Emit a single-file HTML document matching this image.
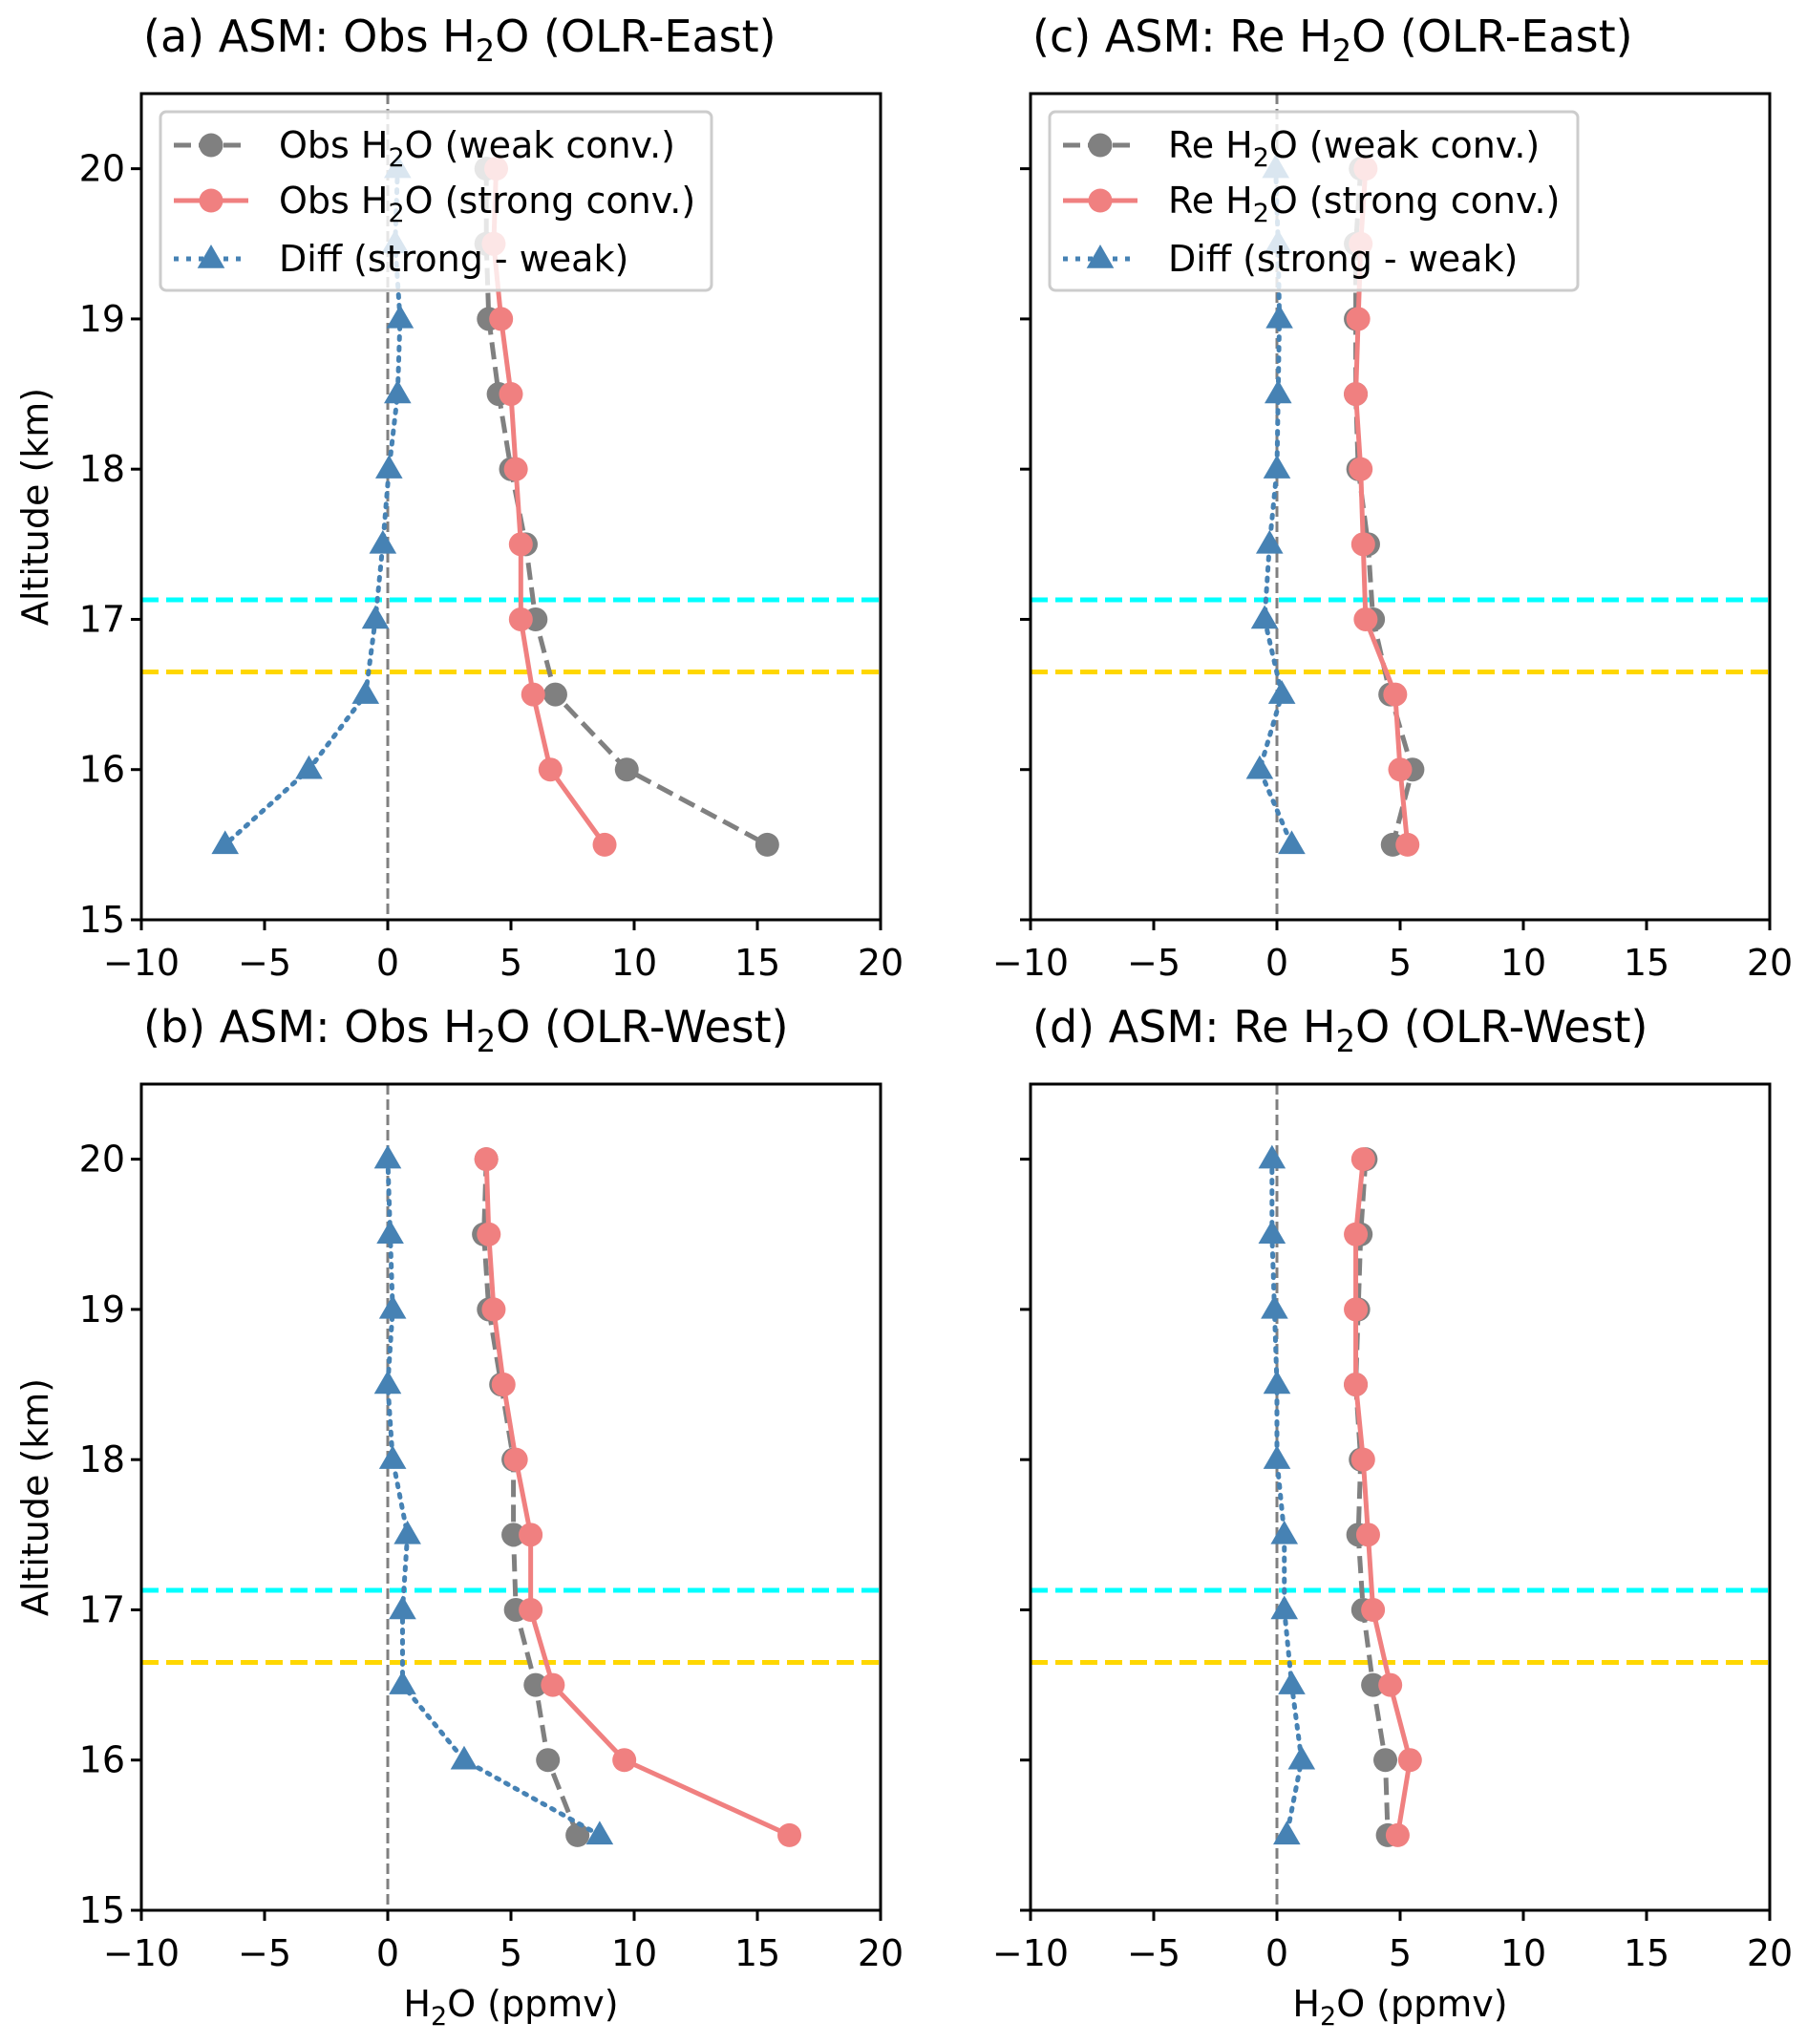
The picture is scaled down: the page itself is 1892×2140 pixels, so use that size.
<!DOCTYPE html>
<html><head><meta charset="utf-8"><style>
body{margin:0;background:#fff}
svg{display:block;font-family:"DejaVu Sans","Liberation Sans",sans-serif}
</style></head><body>
<svg id="fig" width="1892" height="2140" viewBox="0 0 1892 2140" xmlns="http://www.w3.org/2000/svg"></svg>
<script>
const altitudes = [20, 19.5, 19, 18.5, 18, 17.5, 17, 16.5, 16, 15.5];
const xTicks = [-10, -5, 0, 5, 10, 15, 20];
const yTicks = [15, 16, 17, 18, 19, 20];
const cyanLevel = 17.13;
const yellowLevel = 16.65;
const aWeak = [4.0, 4.0, 4.1, 4.5, 5.0, 5.6, 6.0, 6.8, 9.7, 15.4];
const aStrong = [4.4, 4.3, 4.6, 5.0, 5.2, 5.4, 5.4, 5.9, 6.6, 8.8];
const aDiff = [0.4, 0.3, 0.5, 0.4, 0.05, -0.2, -0.5, -0.9, -3.2, -6.6];
const bWeak = [4.0, 3.9, 4.1, 4.6, 5.1, 5.1, 5.2, 6.0, 6.5, 7.7];
const bStrong = [4.0, 4.1, 4.3, 4.7, 5.2, 5.8, 5.8, 6.7, 9.6, 16.3];
const bDiff = [0.0, 0.1, 0.2, 0.0, 0.2, 0.8, 0.6, 0.6, 3.1, 8.6];
const cWeak = [3.4, 3.2, 3.2, 3.2, 3.3, 3.7, 3.9, 4.6, 5.5, 4.7];
const cStrong = [3.6, 3.4, 3.3, 3.2, 3.4, 3.5, 3.6, 4.8, 5.0, 5.3];
const cDiff = [-0.05, 0.05, 0.1, 0.05, 0, -0.3, -0.5, 0.2, -0.7, 0.6];
const dWeak = [3.6, 3.4, 3.3, 3.2, 3.4, 3.3, 3.5, 3.9, 4.4, 4.5];
const dStrong = [3.5, 3.2, 3.2, 3.2, 3.5, 3.7, 3.9, 4.6, 5.4, 4.9];
const dDiff = [-0.2, -0.2, -0.1, 0, 0, 0.3, 0.3, 0.6, 1.0, 0.4];

const NS = 'http://www.w3.org/2000/svg';
const svg = document.getElementById('fig');
function el(tag, attrs, parent){
  const e = document.createElementNS(NS, tag);
  for (const k in attrs) e.setAttribute(k, attrs[k]);
  (parent||svg).appendChild(e);
  return e;
}
const panels = [
  {id:'a', left:148, top:98, title:'(a) ASM: Obs H', tail:'O (OLR-East)', weak:aWeak, strong:aStrong, diff:aDiff, yl:true, xl:false, legend:'Obs'},
  {id:'b', left:148, top:1135, title:'(b) ASM: Obs H', tail:'O (OLR-West)', weak:bWeak, strong:bStrong, diff:bDiff, yl:true, xl:true, legend:null},
  {id:'c', left:1079, top:98, title:'(c) ASM: Re H', tail:'O (OLR-East)', weak:cWeak, strong:cStrong, diff:cDiff, yl:false, xl:false, legend:'Re'},
  {id:'d', left:1079, top:1135, title:'(d) ASM: Re H', tail:'O (OLR-West)', weak:dWeak, strong:dStrong, diff:dDiff, yl:false, xl:true, legend:null},
];
const W = 774, H = 865;
function triPts(x,y,r){return `${x},${y-r*1.15} ${x-r*1.1},${y+r*0.75} ${x+r*1.1},${y+r*0.75}`;}
panels.forEach(p=>{
  const g = el('g', {});
  
  
  const X = v => p.left + (v + 10) / 30 * W;
  const Y = v => p.top + (20.5 - v) / 5.5 * H;
  const bottom = p.top + H;
  const t = el('text', {x:p.left+2, y:p.top-44, 'font-size':46, fill:'#000'}, g);
  
  
  t.innerHTML = p.title + '<tspan font-size="32" dy="10">2</tspan><tspan dy="-10">' + p.tail + '</tspan>';
  const z = el('line', {x1:X(0), x2:X(0), y1:p.top, y2:bottom, stroke:'#808080', 'stroke-width':3, 'stroke-dasharray':'11,5'}, g);
  
  
  const hc = el('line', {x1:p.left, x2:p.left+W, y1:Y(cyanLevel), y2:Y(cyanLevel), stroke:'#00ffff', 'stroke-width':5, 'stroke-dasharray':'18,8'}, g);
  
  
  const hy = el('line', {x1:p.left, x2:p.left+W, y1:Y(yellowLevel), y2:Y(yellowLevel), stroke:'#ffd700', 'stroke-width':5, 'stroke-dasharray':'18,8'}, g);
  
  
  const series = [
    {vals:p.weak, color:'#808080', dash:'18,8', mk:'circle', name:'weak-series'},
    {vals:p.strong, color:'#f08080', dash:'none', mk:'circle', name:'strong-series'},
    {vals:p.diff, color:'#4682b4', dash:'3,8', mk:'tri', name:'diff-series'},
  ];
  series.forEach(s=>{
    const pts = s.vals.map((v,i)=>X(v)+','+Y(altitudes[i])).join(' ');
    const pl = el('polyline', {points:pts, fill:'none', stroke:s.color, 'stroke-width':5, 'stroke-dasharray':s.dash, 'stroke-linecap': s.mk==='tri'?'round':'butt'}, g);
    
    
    s.vals.forEach((v,i)=>{
      let m;
      if (s.mk==='circle') m = el('circle', {cx:X(v), cy:Y(altitudes[i]), r:12.5, fill:s.color}, g);
      else m = el('polygon', {points:triPts(X(v), Y(altitudes[i]), 13), fill:s.color}, g);
      
      
    });
  });
  const fr = el('rect', {x:p.left, y:p.top, width:W, height:H, fill:'none', stroke:'#000', 'stroke-width':3}, g);
  
  
  xTicks.forEach(v=>{
    el('line', {x1:X(v), x2:X(v), y1:bottom, y2:bottom+11, stroke:'#000', 'stroke-width':3}, g);
    const tl = el('text', {x:X(v), y:bottom+58, 'font-size':38, 'text-anchor':'middle'}, g);
    
    
    tl.textContent = v < 0 ? '\u2212' + (-v) : String(v);
  });
  yTicks.forEach(v=>{
    el('line', {x1:p.left-11, x2:p.left, y1:Y(v), y2:Y(v), stroke:'#000', 'stroke-width':3}, g);
    if (p.yl){
      const tl = el('text', {x:p.left-17, y:Y(v)+13, 'font-size':38, 'text-anchor':'end'}, g);
      
      
      tl.textContent = String(v);
    }
  });
  if (p.yl){
    const yt = el('text', {x:0, y:0, 'font-size':38, 'text-anchor':'middle', transform:`translate(50,${p.top+H/2}) rotate(-90)`}, g);
    
    
    yt.textContent = 'Altitude (km)';
  }
  if (p.xl){
    const xt = el('text', {x:p.left+W/2, y:bottom+111, 'font-size':38, 'text-anchor':'middle'}, g);
    
    
    xt.innerHTML = 'H<tspan font-size="27" dy="9">2</tspan><tspan dy="-9">O (ppmv)</tspan>';
  }
  if (p.legend){
    const lg = el('g', {}, g);
    
    
    const lx = p.left + 20;
    el('rect', {x:lx, y:p.top+19, width:p.legend==='Obs'?577:553, height:187, rx:6, fill:'rgba(255,255,255,0.8)', stroke:'#cccccc', 'stroke-width':3}, lg);
    const rows = [
      {y:p.top+54, color:'#808080', dash:'18,8', mk:'circle', label: p.legend + ' H<tspan font-size="27" dy="9">2</tspan><tspan dy="-9">O (weak conv.)</tspan>'},
      {y:p.top+112, color:'#f08080', dash:'none', mk:'circle', label: p.legend + ' H<tspan font-size="27" dy="9">2</tspan><tspan dy="-9">O (strong conv.)</tspan>'},
      {y:p.top+173, color:'#4682b4', dash:'5,8', mk:'tri', label:'Diff (strong - weak)'},
    ];
    rows.forEach(r=>{
      const e = el('g', {}, lg);
      
      
      el('line', {x1:lx+14, x2:lx+92, y1:r.y, y2:r.y, stroke:r.color, 'stroke-width':5, 'stroke-dasharray':r.dash}, e);
      if (r.mk==='circle') el('circle', {cx:lx+53, cy:r.y, r:12.5, fill:r.color}, e);
      else el('polygon', {points:triPts(lx+53, r.y, 13), fill:r.color}, e);
      const tx = el('text', {x:lx+124, y:r.y+13, 'font-size':38}, e);
      tx.innerHTML = r.label;
    });
  }
});
</script>
</body></html>
